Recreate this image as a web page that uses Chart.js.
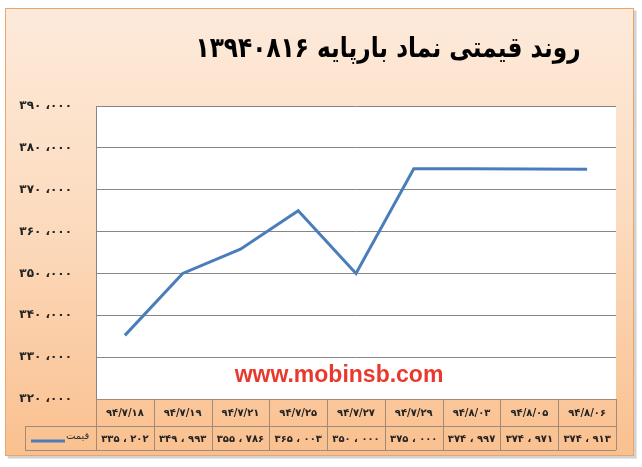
<!DOCTYPE html>
<html><head><meta charset="utf-8">
<script src="https://cdn.jsdelivr.net/npm/chart.js@4/dist/chart.umd.min.js"></script>
<style>html,body{margin:0;padding:0;background:#fff;}canvas{display:block;}</style>
</head><body>
<canvas id="c" width="642" height="467"></canvas>
<script>
const titleText = 'روند قیمتی نماد بارپایه ۱۳۹۴۰۸۱۶';
const seriesName = 'قیمت';
const watermark = 'www.mobinsb.com';
const dates = ['۹۴/۷/۱۸','۹۴/۷/۱۹','۹۴/۷/۲۱','۹۴/۷/۲۵','۹۴/۷/۲۷','۹۴/۷/۲۹','۹۴/۸/۰۳','۹۴/۸/۰۵','۹۴/۸/۰۶'];
const prices = [335202, 349993, 355786, 365003, 350000, 375000, 374997, 374971, 374913];
const yMin = 320000, yMax = 390000, yStep = 10000;

const FA = '۰۱۲۳۴۵۶۷۸۹';
function toFa(s){ return String(s).replace(/[0-9]/g, d => FA[+d]); }
function faNum(v, sep){ const k = Math.floor(v/1000), r = v % 1000; return toFa(k) + sep + toFa(String(r).padStart(3,'0')); }

const TABLE_LEFT = 25, ROW1_H = 27, ROW2_H = 24;
const lineColor = '#4A7EBB';

const framePlugin = {
  id:'frame',
  beforeDraw(chart){
    const ctx = chart.ctx, a = chart.chartArea;
    ctx.save();
    ctx.fillStyle = '#fff'; ctx.fillRect(0,0,chart.width,chart.height);
    ctx.fillStyle = 'rgba(0,0,0,0.10)'; ctx.fillRect(8,11,629,448);
    ctx.fillStyle = 'rgba(0,0,0,0.08)'; ctx.fillRect(7,10,629,448);
    const g = ctx.createLinearGradient(0,8,0,456);
    g.addColorStop(0,'#FDEADB'); g.addColorStop(0.45,'#FCDCC0'); g.addColorStop(1,'#FAC08F');
    ctx.fillStyle = g; ctx.fillRect(5,8,629,448);
    ctx.strokeStyle = '#E9A56E'; ctx.lineWidth = 1; ctx.strokeRect(5.5,8.5,628,447);
    ctx.fillStyle = '#fff'; ctx.fillRect(a.left, a.top, a.right-a.left, a.bottom-a.top);
    ctx.fillStyle = '#000'; ctx.font = 'bold 28px "DejaVu Sans"';
    ctx.textAlign = 'center'; ctx.textBaseline = 'alphabetic';
    ctx.fillText(titleText, 388, 57, 385);
    ctx.restore();
  },
  afterDraw(chart){
    const ctx = chart.ctx, a = chart.chartArea, xs = chart.scales.x;
    const n = dates.length, w = (a.right - a.left)/n;
    const y0 = a.bottom, y1 = y0 + ROW1_H, y2 = y1 + ROW2_H;
    ctx.save();
    ctx.strokeStyle = '#A08A78'; ctx.lineWidth = 1;
    ctx.beginPath();
    ctx.moveTo(a.left, y0+0.5); ctx.lineTo(a.right, y0+0.5);
    ctx.moveTo(TABLE_LEFT, y1+0.5); ctx.lineTo(a.right, y1+0.5);
    ctx.moveTo(TABLE_LEFT, y2+0.5); ctx.lineTo(a.right, y2+0.5);
    for(let i=0;i<=n;i++){ const x = Math.round(a.left + i*w)+0.5; ctx.moveTo(x,y0); ctx.lineTo(x,y2); }
    ctx.moveTo(TABLE_LEFT+0.5,y1); ctx.lineTo(TABLE_LEFT+0.5,y2);
    ctx.stroke();
    ctx.fillStyle = '#222'; ctx.font = 'bold 10px "DejaVu Sans"';
    ctx.textAlign = 'center'; ctx.textBaseline = 'middle';
    for(let i=0;i<n;i++){
      const x = xs.getPixelForValue(i);
      ctx.fillText(dates[i], x, y0 + ROW1_H/2 + 1, w - 6);
      ctx.fillText(faNum(prices[i], ' ، '), x, y1 + ROW2_H/2 + 1, w - 6);
    }
    ctx.strokeStyle = lineColor; ctx.lineWidth = 3;
    ctx.beginPath(); ctx.moveTo(31, y1+15); ctx.lineTo(65, y1+15); ctx.stroke();
    ctx.fillStyle = '#333'; ctx.font = '10px "DejaVu Sans"'; ctx.textAlign = 'left';
    ctx.fillText(seriesName, 66, y1 + 10);
    ctx.fillStyle = '#E8392D'; ctx.font = 'bold 23px "Liberation Sans", Arial';
    ctx.textAlign = 'center'; ctx.textBaseline = 'alphabetic';
    ctx.fillText(watermark, 339, 382);
    ctx.restore();
  }
};

new Chart(document.getElementById('c'), {
  type:'line',
  data:{ labels: dates, datasets:[{ label: seriesName, data: prices, borderColor: lineColor, borderWidth: 3, pointRadius: 0, tension: 0, fill:false }] },
  options:{
    responsive:false, animation:false,
    layout:{ padding:{ top:106, left:0, right:26, bottom:0 } },
    plugins:{ legend:{display:false}, tooltip:{enabled:false}, title:{display:false} },
    scales:{
      x:{ offset:true, grid:{display:false}, border:{display:false}, ticks:{display:false},
          afterFit(s){ s.height = 68; } },
      y:{ min:yMin, max:yMax,
          ticks:{ stepSize:yStep, padding:24, color:'#222', font:{family:'DejaVu Sans', weight:'bold', size:12},
                  callback:v => faNum(v, ' ،') },
          grid:{ color:'#868686', lineWidth:1, drawTicks:false },
          border:{ display:true, color:'#868686' },
          afterFit(s){ s.width = 96; } }
    }
  },
  plugins:[framePlugin]
});
</script>
</body></html>
